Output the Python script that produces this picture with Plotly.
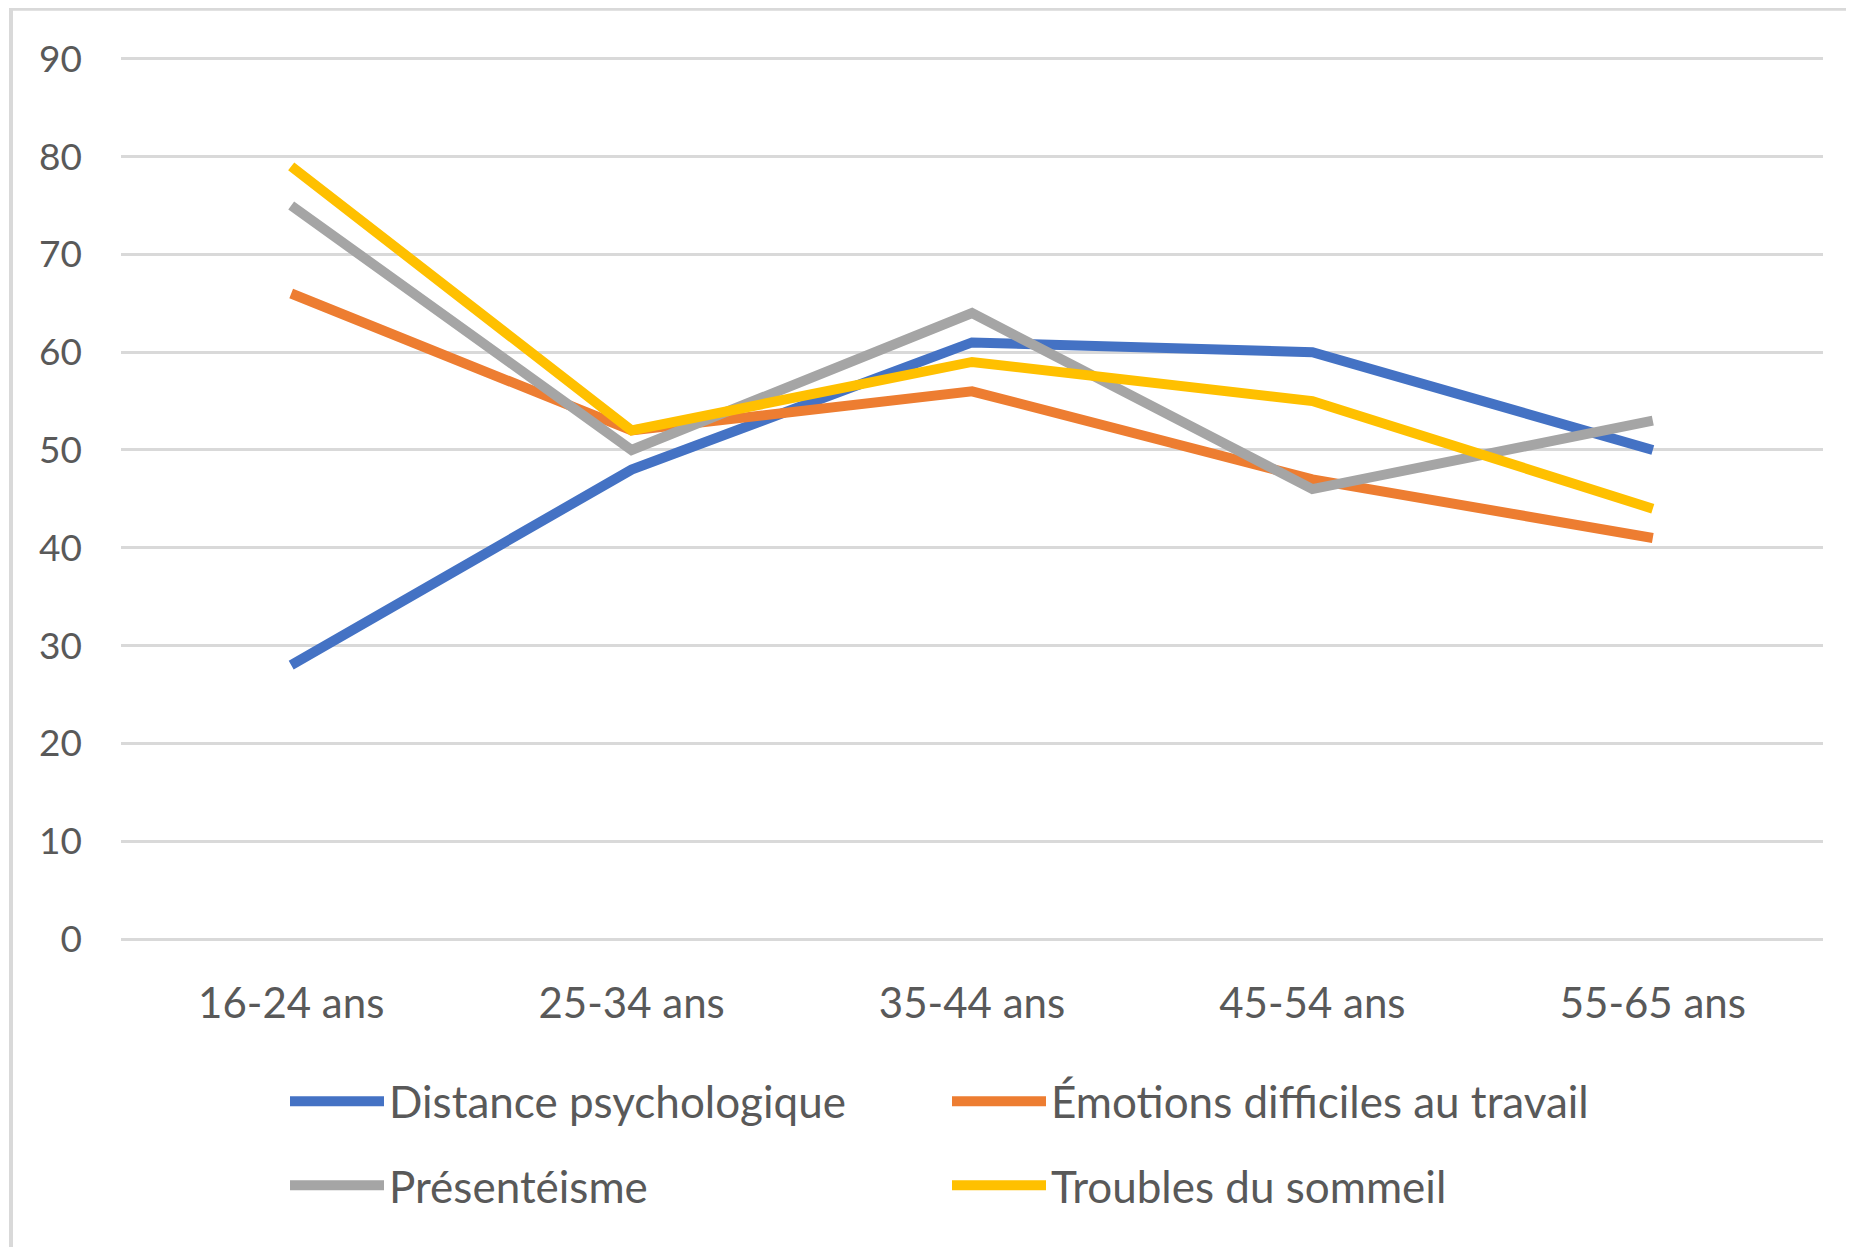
import plotly.graph_objects as go

categories = ["16-24 ans", "25-34 ans", "35-44 ans", "45-54 ans", "55-65 ans"]
distance = [28, 48, 61, 60, 50]
emotions = [66, 52, 56, 47, 41]
presenteisme = [75, 50, 64, 46, 53]
sommeil = [79, 52, 59, 55, 44]
y_ticks = [0, 10, 20, 30, 40, 50, 60, 70, 80, 90]

# page body has an 8px default margin: work in page pixel coords, convert
OFF = 8
W, H = 1854 - OFF, 1247 - OFF
Y_TOP_PAGE, Y_ZERO_PAGE = 59, 939          # page px of 90 and 0
X_LEFT_PAGE, X_RIGHT_PAGE = 121, 1823
Y_MAX = 91
unit = (Y_ZERO_PAGE - Y_TOP_PAGE) / 90.0
L = X_LEFT_PAGE - OFF
R = W - (X_RIGHT_PAGE - OFF)
T = (Y_TOP_PAGE - OFF) - unit * (Y_MAX - 90)
B = H - (Y_ZERO_PAGE - OFF)
pw, ph = W - L - R, H - T - B

def px_x(x):
    return (x - OFF - L) / pw

def px_y(y):
    return (H - B - (y - OFF)) / ph

series = {
    "Distance psychologique": (distance, "#4472C4", "legend", "g1"),
    "Émotions difficiles au travail": (emotions, "#ED7D31", "legend2", "g3"),
    "Présentéisme": (presenteisme, "#A5A5A5", "legend", "g2"),
    "Troubles du sommeil": (sommeil, "#FFC000", "legend2", "g4"),
}

fig = go.Figure()
for name, (vals, col, leg, grp) in series.items():
    fig.add_trace(go.Scatter(
        x=categories, y=vals, name=name, mode="lines",
        line=dict(color=col, width=10),
        legend=leg, legendgroup=grp,
    ))

legend_common = dict(
    xanchor="left", yanchor="top", orientation="v", traceorder="grouped",
    tracegroupgap=24, font=dict(size=44, family="Lato", color="#595959"),
    itemwidth=94, bgcolor="rgba(0,0,0,0)",
)

fig.update_layout(
    width=W, height=H,
    margin=dict(l=L, r=R, t=T, b=B, autoexpand=False),
    paper_bgcolor="white", plot_bgcolor="white",
    font=dict(family="Lato", color="#595959", size=36),
    xaxis=dict(
        type="category", range=[-0.5, 4.5], showgrid=False, showline=False,
        zeroline=False, tickfont=dict(size=42, family="Lato", color="#595959"),
        ticks="", ticklabelstandoff=36,
    ),
    yaxis=dict(
        range=[0, Y_MAX], tickvals=y_ticks, showgrid=True, gridcolor="#D9D9D9",
        gridwidth=3, zeroline=True, zerolinecolor="#D9D9D9", zerolinewidth=3,
        showline=False, ticks="", tickfont=dict(size=37, family="Lato", color="#595959"),
        ticklabelstandoff=38, fixedrange=True,
    ),
    legend=dict(x=px_x(285), y=px_y(1066), **legend_common),
    legend2=dict(x=px_x(947), y=px_y(1066), **legend_common),
    showlegend=True,
    shapes=[
        dict(type="rect", xref="paper", yref="paper",
             x0=px_x(11), x1=px_x(1890), y0=px_y(1290), y1=px_y(9),
             line=dict(color="#D9D9D9", width=4), fillcolor="rgba(0,0,0,0)",
             layer="below"),
    ],
)

fig.write_html("out.html")
